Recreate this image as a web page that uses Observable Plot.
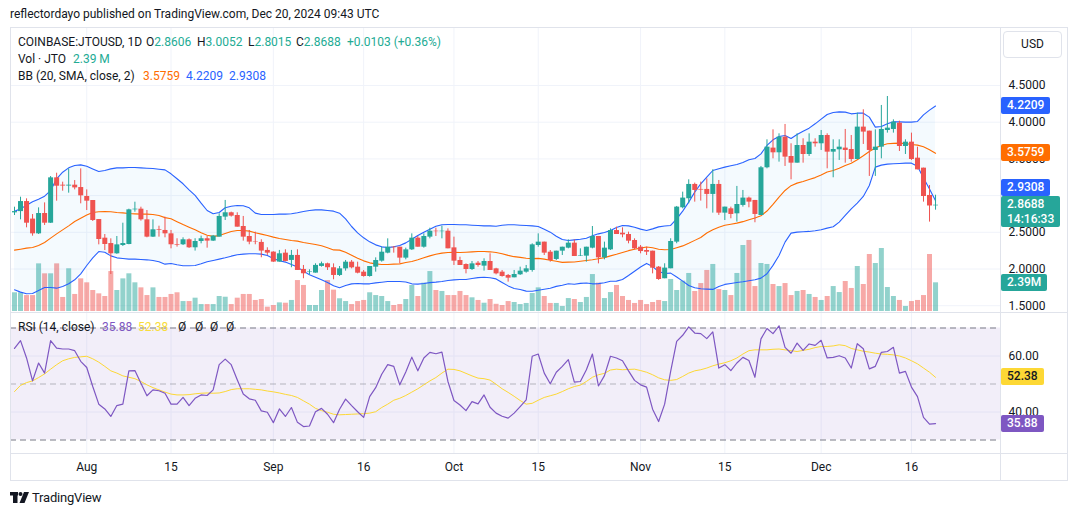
<!DOCTYPE html>
<html>
<head>
<meta charset="utf-8">
<script src="https://cdn.jsdelivr.net/npm/d3@7"></script>
<script src="https://cdn.jsdelivr.net/npm/@observablehq/plot@0.6"></script>
<style>
  body { margin: 0; background: #ffffff; }
  #root { position: relative; width: 1076px; height: 515px; overflow: hidden; background: #ffffff;
          font-family: Roboto, "Noto Sans", sans-serif; color: #131722; font-size: 12px; }
  .abs { position: absolute; white-space: nowrap; }
  .line { position: absolute; background: #e0e3eb; }
  .txt { position: absolute; white-space: nowrap; font-size: 12px; line-height: 14px; }
  .tag { position: absolute; left: 1001px; height: 17px; line-height: 17px; padding: 0 6px;
         border-radius: 2px; font-size: 12px; font-weight: 500; white-space: nowrap; }
  svg { position: absolute; left: 0; }
</style>
</head>
<body>
<div id="root"></div>
<script>
// ---- JTO / USD daily candles, Coinbase ----
const startDate = "2024-07-20";

const open = [
  2.765, 2.782, 2.919, 2.680, 2.479, 2.756, 2.624, 3.242, 3.142, 3.130,
  3.142, 3.110, 2.988, 2.933, 2.674, 2.420, 2.347, 2.207, 2.320, 2.334,
  2.806, 2.815, 2.670, 2.434, 2.534, 2.525, 2.479, 2.334, 2.330, 2.398,
  2.289, 2.375, 2.412, 2.380, 2.434, 2.707, 2.766, 2.729, 2.579, 2.443,
  2.372, 2.362, 2.253, 2.230, 2.094, 2.216, 2.117, 2.185, 1.994, 1.955,
  1.944, 2.035, 2.071, 2.017, 1.912, 2.002, 2.093, 2.025, 1.957, 1.898,
  2.025, 2.107, 2.216, 2.297, 2.297, 2.148, 2.261, 2.420, 2.297, 2.434,
  2.515, 2.508, 2.515, 2.288, 2.116, 2.061, 1.993, 2.079, 2.039, 2.102,
  2.002, 1.957, 1.912, 1.880, 1.921, 1.957, 1.980, 2.320, 2.366, 2.229,
  2.130, 2.243, 2.284, 2.352, 2.175, 2.175, 2.284, 2.443, 2.152, 2.261,
  2.524, 2.488, 2.470, 2.388, 2.297, 2.252, 2.243, 2.025, 1.867, 2.003,
  2.366, 2.834, 2.957, 3.152, 3.084, 3.084, 3.016, 3.152, 2.761, 2.820,
  2.752, 2.866, 2.966, 2.934, 2.729, 3.379, 3.647, 3.583, 3.796, 3.533,
  3.442, 3.683, 3.560, 3.728, 3.706, 3.819, 3.592, 3.624, 3.647, 3.628,
  3.492, 3.933, 3.878, 3.615, 3.660, 3.887, 3.901, 3.987, 3.669, 3.728,
  3.510, 3.374, 3.002, 2.8606
];
const high = [
  2.842, 2.978, 2.956, 2.742, 2.833, 2.901, 3.260, 3.305, 3.183, 3.364,
  3.205, 3.364, 3.078, 2.933, 2.674, 2.470, 2.411, 2.443, 2.624, 2.815,
  2.910, 2.842, 2.797, 2.670, 2.583, 2.706, 2.525, 2.412, 2.425, 2.410,
  2.412, 2.448, 2.443, 2.457, 2.752, 2.934, 2.775, 2.766, 2.716, 2.525,
  2.502, 2.398, 2.289, 2.235, 2.253, 2.262, 2.253, 2.262, 2.048, 1.989,
  2.071, 2.094, 2.080, 2.070, 2.034, 2.116, 2.116, 2.093, 1.980, 2.034,
  2.152, 2.297, 2.411, 2.306, 2.297, 2.284, 2.479, 2.443, 2.479, 2.556,
  2.556, 2.583, 2.547, 2.434, 2.161, 2.070, 2.102, 2.102, 2.139, 2.207,
  2.010, 1.980, 1.925, 1.980, 2.025, 2.048, 2.343, 2.479, 2.366, 2.252,
  2.243, 2.297, 2.397, 2.397, 2.275, 2.297, 2.579, 2.443, 2.366, 2.547,
  2.570, 2.561, 2.502, 2.411, 2.320, 2.297, 2.243, 2.034, 2.071, 2.412,
  2.852, 3.047, 3.215, 3.170, 3.184, 3.229, 3.352, 3.206, 2.843, 2.843,
  3.125, 3.070, 2.979, 2.934, 3.397, 3.760, 3.896, 3.842, 3.969, 3.706,
  3.842, 3.774, 3.842, 3.774, 3.887, 3.842, 3.760, 3.760, 3.901, 3.819,
  4.123, 4.169, 3.878, 3.896, 4.228, 4.350, 4.032, 4.014, 3.760, 3.851,
  3.660, 3.374, 3.138, 3.0052
];
const low = [
  2.729, 2.670, 2.561, 2.447, 2.470, 2.593, 2.620, 2.924, 3.060, 3.033,
  3.078, 2.888, 2.797, 2.647, 2.329, 2.252, 1.925, 2.200, 2.307, 2.330,
  2.774, 2.652, 2.425, 2.430, 2.434, 2.425, 2.275, 2.298, 2.320, 2.280,
  2.244, 2.343, 2.284, 2.375, 2.434, 2.661, 2.707, 2.570, 2.380, 2.330,
  2.330, 2.153, 2.185, 2.090, 2.094, 2.098, 2.017, 1.980, 1.867, 1.921,
  1.944, 2.026, 1.980, 1.853, 1.898, 1.971, 2.002, 1.934, 1.889, 1.889,
  1.957, 2.093, 2.207, 2.216, 2.071, 2.125, 2.252, 2.297, 2.284, 2.411,
  2.443, 2.411, 2.275, 2.048, 2.048, 1.934, 1.980, 2.025, 1.971, 1.980,
  1.920, 1.889, 1.821, 1.880, 1.912, 1.943, 1.957, 2.297, 2.184, 2.093,
  2.116, 2.184, 2.275, 2.170, 2.170, 2.093, 2.275, 2.070, 2.125, 2.252,
  2.470, 2.425, 2.343, 2.261, 2.207, 2.184, 1.934, 1.845, 1.867, 2.003,
  2.344, 2.820, 2.888, 2.911, 2.925, 2.820, 2.761, 2.730, 2.661, 2.684,
  2.639, 2.843, 2.834, 2.630, 2.729, 3.365, 3.501, 3.456, 3.397, 3.215,
  3.442, 3.442, 3.533, 3.660, 3.615, 3.365, 3.243, 3.479, 3.442, 3.456,
  3.492, 3.697, 3.261, 3.261, 3.501, 3.851, 3.851, 3.601, 3.560, 3.479,
  3.351, 2.911, 2.639, 2.8015
];
const close = [
  2.782, 2.919, 2.624, 2.479, 2.756, 2.624, 3.242, 3.128, 3.130, 3.142,
  3.105, 2.997, 2.924, 2.661, 2.402, 2.334, 2.207, 2.329, 2.347, 2.806,
  2.815, 2.670, 2.434, 2.534, 2.525, 2.479, 2.330, 2.325, 2.398, 2.289,
  2.375, 2.412, 2.380, 2.448, 2.716, 2.766, 2.720, 2.570, 2.434, 2.366,
  2.366, 2.244, 2.216, 2.094, 2.207, 2.103, 2.185, 1.980, 1.935, 1.962,
  2.049, 2.071, 2.017, 1.912, 2.002, 2.093, 2.016, 1.943, 1.898, 2.034,
  2.116, 2.229, 2.297, 2.290, 2.148, 2.261, 2.420, 2.297, 2.443, 2.515,
  2.508, 2.515, 2.275, 2.107, 2.048, 1.993, 2.070, 2.048, 2.102, 1.980,
  1.934, 1.898, 1.875, 1.925, 1.971, 2.002, 2.329, 2.366, 2.216, 2.116,
  2.243, 2.297, 2.352, 2.170, 2.182, 2.297, 2.443, 2.152, 2.284, 2.524,
  2.470, 2.465, 2.379, 2.275, 2.238, 2.229, 2.011, 1.857, 2.012, 2.375,
  2.843, 2.966, 3.152, 3.070, 3.075, 3.016, 3.152, 2.761, 2.843, 2.743,
  2.879, 2.966, 2.911, 2.743, 3.379, 3.660, 3.583, 3.796, 3.524, 3.442,
  3.683, 3.560, 3.728, 3.706, 3.819, 3.592, 3.628, 3.660, 3.615, 3.492,
  3.933, 3.865, 3.615, 3.660, 3.901, 3.919, 4.001, 3.669, 3.728, 3.492,
  3.351, 2.988, 2.8585, 2.8688
];
// daily volume, millions of JTO
const volumeM = [
  1.56, 1.56, 1.33, 1.33, 3.97, 3.14, 3.14, 3.97, 1.17, 3.56,
  1.42, 2.72, 2.39, 1.75, 1.47, 1.25, 3.33, 1.75, 2.72, 3.14,
  2.39, 1.97, 1.33, 1.97, 1.17, 1.17, 1.42, 1.56, 0.83, 0.83,
  1.11, 0.58, 0.58, 0.58, 1.25, 1.19, 0.58, 1.11, 1.42, 1.42,
  0.92, 1.00, 0.36, 0.50, 0.72, 0.69, 0.92, 2.58, 2.17, 0.50,
  0.50, 1.75, 2.58, 1.78, 1.06, 0.83, 0.58, 0.83, 0.92, 1.56,
  1.33, 1.25, 0.83, 0.50, 0.58, 1.00, 2.17, 1.25, 2.36, 3.33,
  1.75, 1.67, 1.33, 1.33, 1.67, 1.33, 1.14, 0.92, 0.69, 1.00,
  0.60, 0.50, 0.83, 0.75, 0.58, 0.67, 1.50, 1.97, 1.25, 0.67,
  0.67, 0.42, 1.08, 1.00, 0.75, 1.17, 3.08, 2.36, 1.08, 1.58,
  2.17, 1.25, 0.92, 0.67, 0.92, 0.58, 0.75, 0.92, 0.83, 2.67,
  1.75, 2.53, 3.17, 1.67, 2.33, 3.42, 3.92, 1.83, 1.75, 1.33,
  3.17, 5.50, 5.92, 2.08, 4.00, 3.92, 2.25, 2.08, 2.33, 1.33,
  1.67, 1.75, 1.42, 1.17, 0.92, 1.25, 2.08, 1.58, 2.50, 1.92,
  3.75, 2.25, 4.75, 4.00, 5.25, 2.00, 1.25, 0.92, 0.42, 0.83,
  0.92, 1.33, 4.75, 2.39
];
// Bollinger Bands (20, SMA, close, 2)
const bbBasis = [
  2.257, 2.270, 2.284, 2.293, 2.320, 2.361, 2.420, 2.479, 2.533, 2.588,
  2.647, 2.692, 2.735, 2.770, 2.780, 2.783, 2.779, 2.770, 2.765, 2.756,
  2.751, 2.747, 2.747, 2.742, 2.729, 2.700, 2.684, 2.645, 2.605, 2.570,
  2.535, 2.495, 2.460, 2.445, 2.455, 2.485, 2.510, 2.525, 2.525, 2.516,
  2.493, 2.475, 2.457, 2.434, 2.416, 2.402, 2.389, 2.380, 2.362, 2.348,
  2.334, 2.316, 2.289, 2.260, 2.257, 2.229, 2.188, 2.148, 2.111, 2.084,
  2.070, 2.061, 2.061, 2.066, 2.070, 2.089, 2.102, 2.125, 2.152, 2.179,
  2.202, 2.216, 2.225, 2.229, 2.225, 2.229, 2.234, 2.238, 2.238, 2.234,
  2.224, 2.207, 2.186, 2.168, 2.159, 2.146, 2.142, 2.145, 2.134, 2.120,
  2.105, 2.090, 2.094, 2.095, 2.105, 2.115, 2.125, 2.140, 2.155, 2.179,
  2.200, 2.225, 2.250, 2.270, 2.285, 2.300, 2.290, 2.270, 2.262, 2.265,
  2.290, 2.315, 2.350, 2.390, 2.430, 2.490, 2.535, 2.570, 2.595, 2.610,
  2.625, 2.645, 2.670, 2.695, 2.725, 2.790, 2.880, 2.980, 3.070, 3.135,
  3.170, 3.193, 3.220, 3.245, 3.280, 3.322, 3.342, 3.374, 3.411, 3.442,
  3.488, 3.542, 3.600, 3.649, 3.683, 3.706, 3.712, 3.715, 3.710, 3.697,
  3.688, 3.665, 3.624, 3.5759
];
const bbUpper = [
  2.788, 2.819, 2.869, 2.915, 2.951, 2.992, 3.069, 3.228, 3.319, 3.378,
  3.410, 3.419, 3.401, 3.364, 3.328, 3.342, 3.364, 3.378, 3.378, 3.382,
  3.382, 3.378, 3.373, 3.369, 3.360, 3.351, 3.297, 3.229, 3.161, 3.079,
  3.002, 2.897, 2.797, 2.752, 2.770, 2.834, 2.856, 2.866, 2.861, 2.834,
  2.761, 2.743, 2.743, 2.743, 2.747, 2.747, 2.752, 2.766, 2.784, 2.797,
  2.806, 2.806, 2.797, 2.788, 2.760, 2.683, 2.579, 2.493, 2.425, 2.370,
  2.329, 2.302, 2.293, 2.302, 2.320, 2.356, 2.406, 2.456, 2.502, 2.543,
  2.583, 2.602, 2.606, 2.606, 2.602, 2.602, 2.597, 2.593, 2.588, 2.588,
  2.583, 2.597, 2.602, 2.602, 2.597, 2.593, 2.588, 2.579, 2.543, 2.502,
  2.447, 2.402, 2.388, 2.397, 2.406, 2.420, 2.452, 2.479, 2.497, 2.524,
  2.565, 2.593, 2.588, 2.570, 2.543, 2.524, 2.547, 2.574, 2.585, 2.593,
  2.684, 2.789, 2.911, 3.047, 3.161, 3.252, 3.342, 3.365, 3.388, 3.406,
  3.424, 3.451, 3.488, 3.506, 3.569, 3.683, 3.760, 3.806, 3.819, 3.778,
  3.833, 3.878, 3.919, 3.978, 4.042, 4.105, 4.132, 4.141, 4.137, 4.114,
  4.123, 4.123, 4.069, 3.933, 3.942, 3.978, 4.005, 4.005, 4.001, 4.001,
  4.010, 4.100, 4.165, 4.2209
];
const bbLower = [
  1.716, 1.685, 1.662, 1.666, 1.707, 1.748, 1.748, 1.739, 1.762, 1.798,
  1.853, 1.934, 2.048, 2.152, 2.238, 2.229, 2.179, 2.152, 2.143, 2.134,
  2.134, 2.129, 2.125, 2.116, 2.098, 2.066, 2.076, 2.057, 2.044, 2.044,
  2.048, 2.071, 2.098, 2.116, 2.135, 2.153, 2.175, 2.194, 2.203, 2.207,
  2.207, 2.203, 2.185, 2.144, 2.112, 2.094, 2.062, 2.026, 1.971, 1.921,
  1.889, 1.853, 1.817, 1.771, 1.745, 1.775, 1.797, 1.803, 1.797, 1.798,
  1.811, 1.820, 1.829, 1.830, 1.830, 1.822, 1.798, 1.794, 1.802, 1.815,
  1.821, 1.830, 1.844, 1.852, 1.856, 1.856, 1.871, 1.883, 1.888, 1.880,
  1.865, 1.817, 1.770, 1.734, 1.721, 1.699, 1.696, 1.711, 1.725, 1.738,
  1.763, 1.778, 1.800, 1.793, 1.804, 1.810, 1.798, 1.801, 1.813, 1.834,
  1.835, 1.857, 1.912, 1.970, 2.027, 2.076, 2.033, 1.966, 1.939, 1.944,
  1.890, 1.835, 1.776, 1.744, 1.731, 1.726, 1.722, 1.763, 1.790, 1.803,
  1.817, 1.826, 1.840, 1.853, 1.876, 1.935, 2.049, 2.185, 2.366, 2.489,
  2.502, 2.507, 2.512, 2.521, 2.534, 2.557, 2.575, 2.639, 2.730, 2.820,
  2.897, 2.988, 3.138, 3.388, 3.415, 3.429, 3.433, 3.438, 3.442, 3.442,
  3.400, 3.240, 3.090, 2.9308
];
// RSI (14, close) and its 14-period moving average
const rsi = [
  62.7, 65.5, 59.3, 51.1, 57.5, 53.9, 65.5, 62.8, 62.5, 62.5,
  61.9, 58.1, 55.9, 49.1, 42.8, 41.1, 38.4, 42.3, 42.8, 54.7,
  54.8, 50.3, 45.8, 47.9, 47.6, 46.7, 42.8, 42.8, 45.2, 42.3,
  44.9, 46.1, 45.9, 47.9, 56.9, 58.9, 56.9, 51.5, 46.4, 44.7,
  44.2, 40.4, 39.9, 36.2, 41.1, 38.4, 41.6, 36.3, 34.8, 35.0,
  40.1, 41.3, 39.2, 36.2, 41.0, 44.6, 42.3, 40.1, 38.1, 45.5,
  48.7, 53.5, 56.9, 56.3, 49.7, 54.3, 59.6, 54.7, 59.3, 61.3,
  60.8, 61.4, 50.9, 44.1, 42.5, 40.5, 43.7, 42.9, 46.1, 41.7,
  39.6, 38.5, 37.8, 39.6, 41.9, 44.3, 59.9, 60.7, 53.9, 50.1,
  54.2, 56.3, 58.7, 50.7, 50.9, 55.1, 60.7, 49.3, 53.0, 59.9,
  59.3, 58.3, 54.7, 51.3, 49.7, 48.9, 41.0, 36.6, 42.8, 54.5,
  65.2, 67.4, 70.4, 68.2, 68.0, 66.2, 68.6, 55.7, 56.9, 54.8,
  57.5, 59.5, 58.4, 52.4, 66.1, 69.8, 68.0, 70.8, 63.1, 61.0,
  64.6, 62.0, 64.3, 63.8, 65.6, 59.3, 59.5, 60.1, 59.3, 55.7,
  64.4, 62.6, 55.4, 56.3, 61.3, 61.6, 63.1, 53.9, 54.5, 48.9,
  45.5, 38.1, 35.7, 35.88
];
const rsiMa = [
  47.3, 49.5, 50.5, 51.1, 52.3, 53.6, 55.3, 56.9, 58.3, 59.0,
  59.5, 59.7, 59.9, 59.0, 57.8, 56.3, 54.7, 53.9, 52.9, 52.4,
  51.9, 50.9, 49.7, 48.7, 47.9, 47.1, 46.4, 46.1, 46.1, 46.2,
  46.5, 46.7, 46.8, 46.7, 46.8, 47.3, 48.0, 48.3, 48.3, 48.3,
  48.1, 47.9, 47.5, 47.2, 46.8, 46.3, 45.9, 45.2, 44.0, 42.8,
  41.3, 40.5, 39.9, 39.2, 39.0, 39.1, 39.2, 39.3, 39.4, 39.6,
  40.1, 41.6, 42.8, 44.2, 44.9, 45.9, 47.1, 48.3, 49.7, 51.1,
  52.3, 53.9, 55.3, 55.2, 54.7, 53.8, 52.9, 52.1, 51.9, 51.4,
  49.9, 48.3, 47.0, 45.6, 44.1, 42.8, 43.1, 44.2, 45.2, 45.8,
  46.4, 47.3, 48.3, 49.1, 49.6, 50.9, 52.4, 53.3, 53.8, 55.0,
  55.3, 55.1, 55.2, 55.3, 54.8, 54.2, 53.3, 52.2, 51.5, 51.3,
  51.6, 52.7, 53.9, 54.7, 55.1, 55.7, 56.5, 57.1, 57.6, 58.3,
  59.3, 60.7, 61.9, 62.2, 62.2, 62.2, 62.4, 62.5, 62.2, 61.9,
  61.6, 62.0, 62.4, 63.0, 63.4, 63.4, 63.6, 64.0, 63.7, 62.7,
  62.2, 61.7, 61.4, 61.0, 60.7, 60.6, 60.4, 60.0, 59.3, 58.3,
  57.2, 55.7, 54.2, 52.38
];

const timeTicks = ["2024-08-01", "2024-08-15", "2024-09-01", "2024-09-16", "2024-10-01",
                   "2024-10-15", "2024-11-01", "2024-11-15", "2024-12-01", "2024-12-16"];
const timeTickLabels = ["Aug", "15", "Sep", "16", "Oct", "15", "Nov", "15", "Dec", "16"];
const priceTicks = [1.5, 2.0, 2.5, 3.0, 3.5, 4.0, 4.5];
const rsiTicks = [40, 60];
const rsiBandLevels = [{lo: 30, hi: 70}];
const rsiOuterLevels = [70, 30];
const rsiMidLevel = [50];
const countdown = "14:16:33";

// ---- assemble rows ----
const day0 = new Date(startDate + "T00:00:00Z");
const rows = close.map((c, i) => ({
  date: d3.utcDay.offset(day0, i),
  open: open[i], high: high[i], low: low[i], close: c,
  volume: volumeM[i], basis: bbBasis[i], upper: bbUpper[i], lower: bbLower[i],
  rsi: rsi[i], rsiMa: rsiMa[i]
}));
const last = rows[rows.length - 1];
const prevClose = rows[rows.length - 2].close;

const UP = "#26A69A", DOWN = "#EF5350", GRID = "#f0f3fa";
const tone = d => (d.close >= d.open ? UP : DOWN);
const xDomain = [new Date(+day0 - 15.95 * 36e5), new Date(+day0 + 3931 * 36e5)];
const tickDates = timeTicks.map(s => new Date(s + "T00:00:00Z"));
const labelByTime = new Map(tickDates.map((d, i) => [+d, timeTickLabels[i]]));

const root = document.getElementById("root");
const baseStyle = {background: "transparent", fontFamily: "Roboto, 'Noto Sans', sans-serif", fontSize: "12px", color: "#131722", overflow: "visible"};
const paneLayout = {width: 1076, marginLeft: 10, marginRight: 76};
const priceY = {domain: [1.4074, 5.2902], label: null};

function place(svg, top) { svg.style.top = top + "px"; root.appendChild(svg); return svg; }
function line(l, t, w, h) { const d = document.createElement("div"); d.className = "line";
  Object.assign(d.style, {left: l + "px", top: t + "px", width: w + "px", height: h + "px"}); root.appendChild(d); }

// price pane: grid layer
const gridPlot = Plot.plot({
  ...paneLayout, height: 285, marginTop: 0, marginBottom: 0,
  x: {type: "utc", domain: xDomain, axis: null},
  y: {...priceY, axis: null},
  style: baseStyle,
  marks: [
    Plot.ruleX(tickDates, {stroke: GRID}),
    Plot.ruleY(priceTicks, {stroke: GRID})
  ]
});
place(gridPlot, 27);

// price pane: volume layer
const volPlot = Plot.plot({
  ...paneLayout, height: 285, marginTop: 0, marginBottom: 1,
  x: {type: "utc", domain: xDomain, axis: null},
  y: {domain: [0, 284 / 12], axis: null},
  style: baseStyle,
  marks: [
    Plot.ruleX(rows, {x: "date", y1: 0, y2: "volume", stroke: tone, strokeOpacity: 0.5, strokeWidth: 5})
  ]
});
place(volPlot, 27);

// the value tags on the price scale cover the 3.0000 tick, so that label is left out
const coveredTicks = [3.0];
const priceLabelTicks = priceTicks.filter(t => !coveredTicks.includes(t));

// price pane: bands, candles, axis
const pricePlot = Plot.plot({
  ...paneLayout, height: 285, marginTop: 0, marginBottom: 0,
  x: {type: "utc", domain: xDomain, axis: null},
  y: priceY,
  style: baseStyle,
  marks: [
    Plot.areaY(rows, {x: "date", y1: "lower", y2: "upper", fill: "#2196F3", fillOpacity: 0.05}),
    Plot.lineY(rows, {x: "date", y: "upper", stroke: "#2962FF", strokeWidth: 1.1}),
    Plot.lineY(rows, {x: "date", y: "lower", stroke: "#2962FF", strokeWidth: 1.1}),
    Plot.lineY(rows, {x: "date", y: "basis", stroke: "#FF6D00", strokeWidth: 1.1}),
    Plot.ruleX(rows, {x: "date", y1: "low", y2: "high", stroke: tone, strokeWidth: 1}),
    Plot.ruleX(rows, {x: "date", y1: "open", y2: "close", stroke: tone, strokeWidth: 5}),
    Plot.axisY({anchor: "right", ticks: priceLabelTicks, tickSize: 0, tickPadding: 8, fontSize: 12,
                tickFormat: d => d.toFixed(4), label: null, fill: "#131722"})
  ]
});
place(pricePlot, 27);

// RSI pane with time axis
const rsiPlot = Plot.plot({
  ...paneLayout, height: 168, marginTop: 0, marginBottom: 28,
  x: {type: "utc", domain: xDomain},
  y: {domain: [25.179, 75.179], label: null},
  style: baseStyle,
  marks: [
    Plot.ruleX(tickDates, {stroke: GRID}),
    Plot.ruleY(rsiTicks, {stroke: GRID}),
    Plot.rect(rsiBandLevels, {x1: () => xDomain[0], x2: () => xDomain[1], y1: "lo", y2: "hi", fill: "#7E57C2", fillOpacity: 0.1}),
    Plot.ruleY(rsiOuterLevels, {stroke: "#787B86", strokeDasharray: "6,4", strokeWidth: 1}),
    Plot.ruleY(rsiMidLevel, {stroke: "#787B86", strokeOpacity: 0.5, strokeDasharray: "6,4", strokeWidth: 1}),
    Plot.lineY(rows, {x: "date", y: "rsiMa", stroke: "#FDD835", strokeWidth: 1}),
    Plot.lineY(rows, {x: "date", y: "rsi", stroke: "#7E57C2", strokeWidth: 1.2}),
    Plot.axisY({anchor: "right", ticks: rsiTicks, tickSize: 0, tickPadding: 8, fontSize: 12,
                tickFormat: d => d.toFixed(2), label: null, fill: "#131722"}),
    Plot.axisX({anchor: "bottom", ticks: tickDates, tickSize: 0, tickPadding: 9, fontSize: 12,
                tickFormat: d => labelByTime.get(+d), label: null, fill: "#131722"})
  ]
});
place(rsiPlot, 313);

line(10, 27, 1058, 1);      // top
line(10, 480, 1058, 1);     // bottom
line(10, 27, 1, 454);       // left
line(1067, 27, 1, 454);     // right
line(1000, 27, 1, 454);     // price scale edge
line(10, 312, 1058, 1);     // pane divider
line(10, 453, 1058, 1);     // time axis divider

// ---- text ----
function text(str, left, cy, color, extra) {
  const s = document.createElement("div"); s.className = "txt"; s.textContent = str;
  s.style.left = left + "px"; s.style.top = (cy - 7) + "px"; s.style.color = color || "#131722";
  if (extra) Object.assign(s.style, extra);
  root.appendChild(s); return s;
}
const VAL = "#22ab94";
text("reflectordayo published on TradingView.com, Dec 20, 2024 09:43 UTC", 10, 14);

text("COINBASE:JTOUSD, 1D", 18, 41.7);
const ohlc = [["O", last.open, 146], ["H", last.high, 197], ["L", last.low, 248], ["C", last.close, 296]];
for (const [k, v, x] of ohlc) {
  const el = text(k, x, 41.7);
  const sp = document.createElement("span"); sp.style.color = VAL; sp.textContent = v.toFixed(4); el.appendChild(sp);
}
const chg = last.close - prevClose;
text(`+${chg.toFixed(4)} (+${(chg / prevClose * 100).toFixed(2)}%)`, 347, 41.7, VAL);

text("Vol · JTO", 18, 59.3);
text(`${last.volume.toFixed(2)} M`, 73, 59.3, VAL);

text("BB (20, SMA, close, 2)", 18, 75.7);
text(last.basis.toFixed(4), 143, 75.7, "#FF6D00");
text(last.upper.toFixed(4), 186, 75.7, "#2962FF");
text(last.lower.toFixed(4), 229, 75.7, "#2962FF");

text("RSI (14, close)", 18, 327);
text(last.rsi.toFixed(2), 102, 327, "#7E57C2");
text(last.rsiMa.toFixed(2), 138, 327, "#F9DC3A");
[178, 195, 210, 226].forEach(x => text("Ø", x, 327));

// currency button
const usd = document.createElement("div");
usd.className = "abs";
Object.assign(usd.style, {left: "1003px", top: "31px", width: "57px", height: "25px", border: "1px solid #e0e3eb",
  borderRadius: "4px", textAlign: "center", lineHeight: "25px", fontSize: "12px", background: "#fff"});
usd.textContent = "USD";
root.appendChild(usd);

// ---- scale tags ----
function tag(str, top, bg, fg) {
  const el = document.createElement("div"); el.className = "tag";
  el.style.top = top + "px"; el.style.background = bg; el.style.color = fg; el.textContent = str;
  root.appendChild(el); return el;
}
const yP = pricePlot.scale("y"), yV = volPlot.scale("y"), yR = rsiPlot.scale("y");
const TH = 17;
tag(last.upper.toFixed(4), 27 + yP.apply(last.upper) - TH / 2, "#2962FF", "#fff");
tag(last.basis.toFixed(4), 27 + yP.apply(last.basis) - TH / 2, "#FF6D00", "#fff");
const lastTop = 27 + yP.apply(last.close) - TH / 2;
const lowerTop = Math.min(27 + yP.apply(last.lower) - TH / 2, lastTop - TH);
tag(last.lower.toFixed(4), lowerTop, "#2962FF", "#fff");
const lp = tag("", lastTop, UP, "#fff");
lp.style.height = "31px";
lp.innerHTML = `<div style="line-height:17px">${last.close.toFixed(4)}</div><div style="line-height:13px">${countdown}</div>`;
tag(`${last.volume.toFixed(2)}M`, 27 + yV.apply(last.volume) - TH / 2, UP, "#fff");
tag(last.rsiMa.toFixed(2), 313 + yR.apply(last.rsiMa) - TH / 2, "#FDD835", "#131722");
tag(last.rsi.toFixed(2), 313 + yR.apply(last.rsi) - TH / 2, "#7E57C2", "#fff");

// ---- footer brand ----
const brand = document.createElement("div");
brand.className = "abs";
Object.assign(brand.style, {left: "10px", top: "489px", height: "16px", display: "flex", alignItems: "center", gap: "3px"});
brand.innerHTML = `<svg width="19" height="11" viewBox="0 0 19 11" style="position:static">
  <rect x="0" y="0" width="8" height="3.5" fill="#131722"/><rect x="3" y="0" width="4.5" height="11" fill="#131722"/>
  <circle cx="10.5" cy="2" r="2" fill="#131722"/><polygon points="14,0 19,0 14.5,11 9.5,11" fill="#131722"/></svg>
  <span style="font-size:13px;color:#131722;letter-spacing:-0.2px">TradingView</span>`;
root.appendChild(brand);
</script>
</body>
</html>
